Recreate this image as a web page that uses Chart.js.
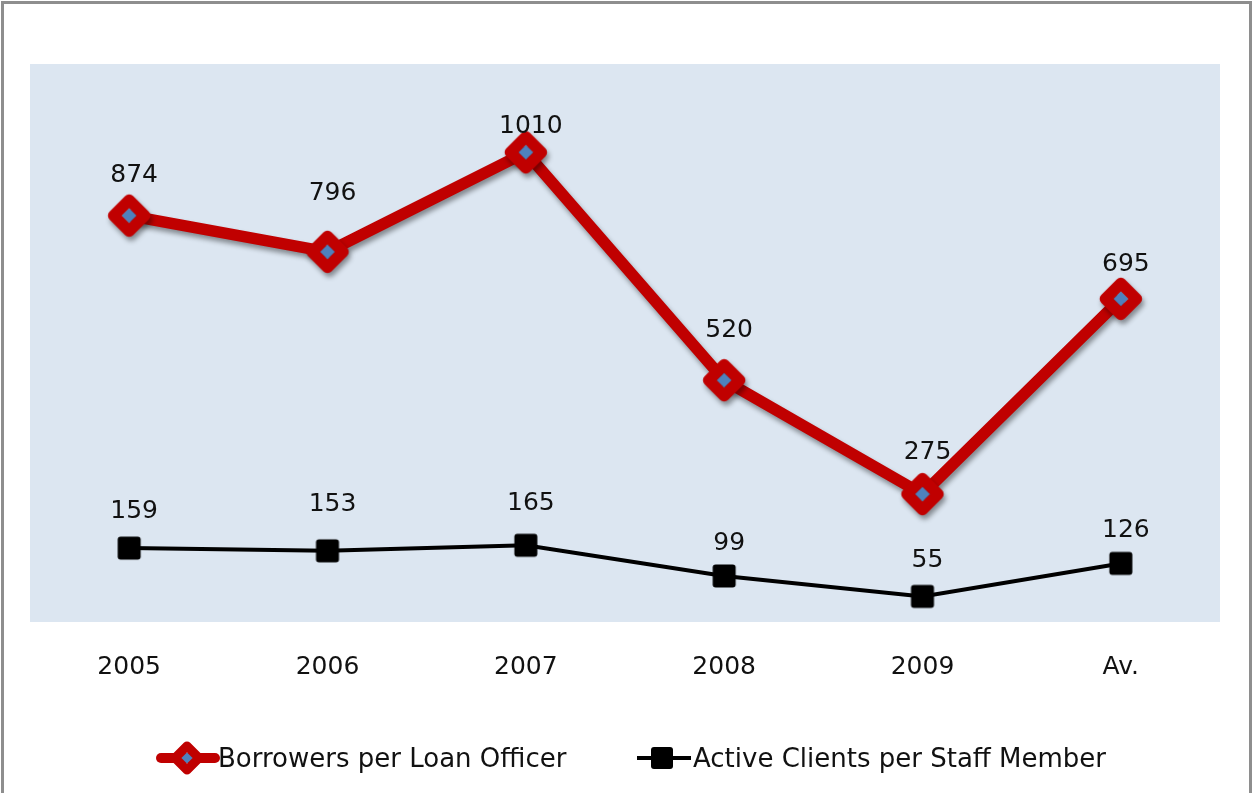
<!DOCTYPE html>
<html>
<head>
<meta charset="utf-8">
<script src="https://cdn.jsdelivr.net/npm/chart.js@4/dist/chart.umd.min.js"></script>
<style>
body{margin:0;background:#fff}
#box{position:absolute;left:1px;top:1px;width:1251px;height:792px;box-sizing:border-box;border:3px solid #8e8e8e;border-bottom:none;background:#fff}
#box canvas{display:block}
</style>
</head>
<body>
<div id="box"><canvas id="c" width="1245" height="789"></canvas></div>
<script>
const years = ["2005","2006","2007","2008","2009","Av."]
const borrowers = [874,796,1010,520,275,695]
const activeClients = [159,153,165,99,55,126]
const seriesNames = ["Borrowers per Loan Officer","Active Clients per Staff Member"]

// how far above each point the value text sits
const redLift = [40,58,26,50,42,34]
const blackLift = [37,46,42,32,36,33]

const RED = "#c00000"
const BLUE = "#4f81bd"
const FONT = "DejaVu Sans"

function diamond(ctx,x,y,r,lw){
  ctx.save()
  ctx.lineJoin = "round"
  ctx.lineWidth = lw
  ctx.strokeStyle = RED
  ctx.fillStyle = BLUE
  ctx.beginPath()
  ctx.moveTo(x,y-r); ctx.lineTo(x+r,y); ctx.lineTo(x,y+r); ctx.lineTo(x-r,y); ctx.closePath()
  ctx.stroke()
  ctx.beginPath()
  let s = r - lw*0.71
  ctx.moveTo(x,y-s); ctx.lineTo(x+s,y); ctx.lineTo(x,y+s); ctx.lineTo(x-s,y); ctx.closePath()
  ctx.fill()
  ctx.restore()
}

function square(ctx,x,y,half){
  ctx.save()
  ctx.fillStyle = "#000"
  ctx.beginPath(); ctx.roundRect(x-half,y-half,half*2,half*2,3); ctx.fill()
  ctx.restore()
}

// marker images (drawn at their own size, pointRadius only has to be > 0)
const redMark = document.createElement("canvas")
redMark.width = 48; redMark.height = 48
diamond(redMark.getContext("2d"),24,24,15.5,11.5)

const blackMark = document.createElement("canvas")
blackMark.width = 26; blackMark.height = 26
square(blackMark.getContext("2d"),13,13,11.5)

// light blue plot area + drop shadow under the red line
const plotBg = {
  id:"plotBg",
  beforeDraw(chart){
    let a = chart.chartArea, ctx = chart.ctx
    ctx.save()
    ctx.fillStyle = "#dce6f1"
    ctx.fillRect(a.left, a.top, a.right-a.left, a.bottom-a.top)
    ctx.restore()
  },
  beforeDatasetDraw(chart,args){
    if(args.index!==0) return
    let ctx = chart.ctx
    ctx.save()
    ctx.shadowColor = "rgba(0,0,0,0.4)"
    ctx.shadowBlur = 5
    ctx.shadowOffsetX = 2
    ctx.shadowOffsetY = 4
  },
  afterDatasetDraw(chart,args){
    if(args.index!==0) return
    chart.ctx.restore()
  }
}

// value labels and the legend at the bottom
const extras = {
  id:"extras",
  afterDatasetsDraw(chart){
    let ctx = chart.ctx
    ctx.save()
    ctx.font = "25px '"+FONT+"'"
    ctx.fillStyle = "#111"
    ctx.textAlign = "center"
    ctx.textBaseline = "middle"
    chart.data.datasets.forEach((ds,i)=>{
      let lifts = i===0 ? redLift : blackLift
      chart.getDatasetMeta(i).data.forEach((pt,j)=>{
        ctx.fillText(String(ds.data[j]), pt.x+5, pt.y-lifts[j])
      })
    })
    ctx.restore()
  },
  afterDraw(chart){
    let ctx = chart.ctx
    let y = 754
    ctx.save()
    // red sample
    ctx.strokeStyle = RED
    ctx.lineWidth = 10
    ctx.lineCap = "round"
    ctx.beginPath(); ctx.moveTo(157,y); ctx.lineTo(211,y); ctx.stroke()
    diamond(ctx,183,y,12,9)
    // black sample
    ctx.strokeStyle = "#000"
    ctx.lineWidth = 4
    ctx.lineCap = "butt"
    ctx.beginPath(); ctx.moveTo(633,y); ctx.lineTo(687,y); ctx.stroke()
    square(ctx,658,y,11)
    // texts
    ctx.font = "26px '"+FONT+"'"
    ctx.fillStyle = "#111"
    ctx.textBaseline = "middle"
    ctx.fillText(seriesNames[0], 214, y+2)
    ctx.fillText(seriesNames[1], 689, y+2)
    ctx.restore()
  }
}

new Chart(document.getElementById("c"),{
  type:"line",
  data:{
    labels:years,
    datasets:[{
      label:seriesNames[0],
      data:borrowers,
      borderColor:RED,
      borderWidth:11.5,
      borderJoinStyle:"round",
      backgroundColor:BLUE,
      pointStyle:redMark,
      pointRadius:2,
      tension:0
    },{
      label:seriesNames[1],
      data:activeClients,
      borderColor:"#000",
      borderWidth:4,
      pointStyle:blackMark,
      pointRadius:2,
      tension:0
    }]
  },
  options:{
    responsive:false,
    animation:false,
    layout:{padding:{left:26,right:29,top:60,bottom:89}},
    plugins:{legend:{display:false},tooltip:{enabled:false}},
    scales:{
      x:{
        offset:true,
        grid:{display:false},
        border:{display:false},
        ticks:{color:"#111",font:{family:FONT,size:25},padding:22}
      },
      y:{display:false,min:0,max:1200}
    }
  },
  plugins:[plotBg,extras]
})
</script>
</body>
</html>
